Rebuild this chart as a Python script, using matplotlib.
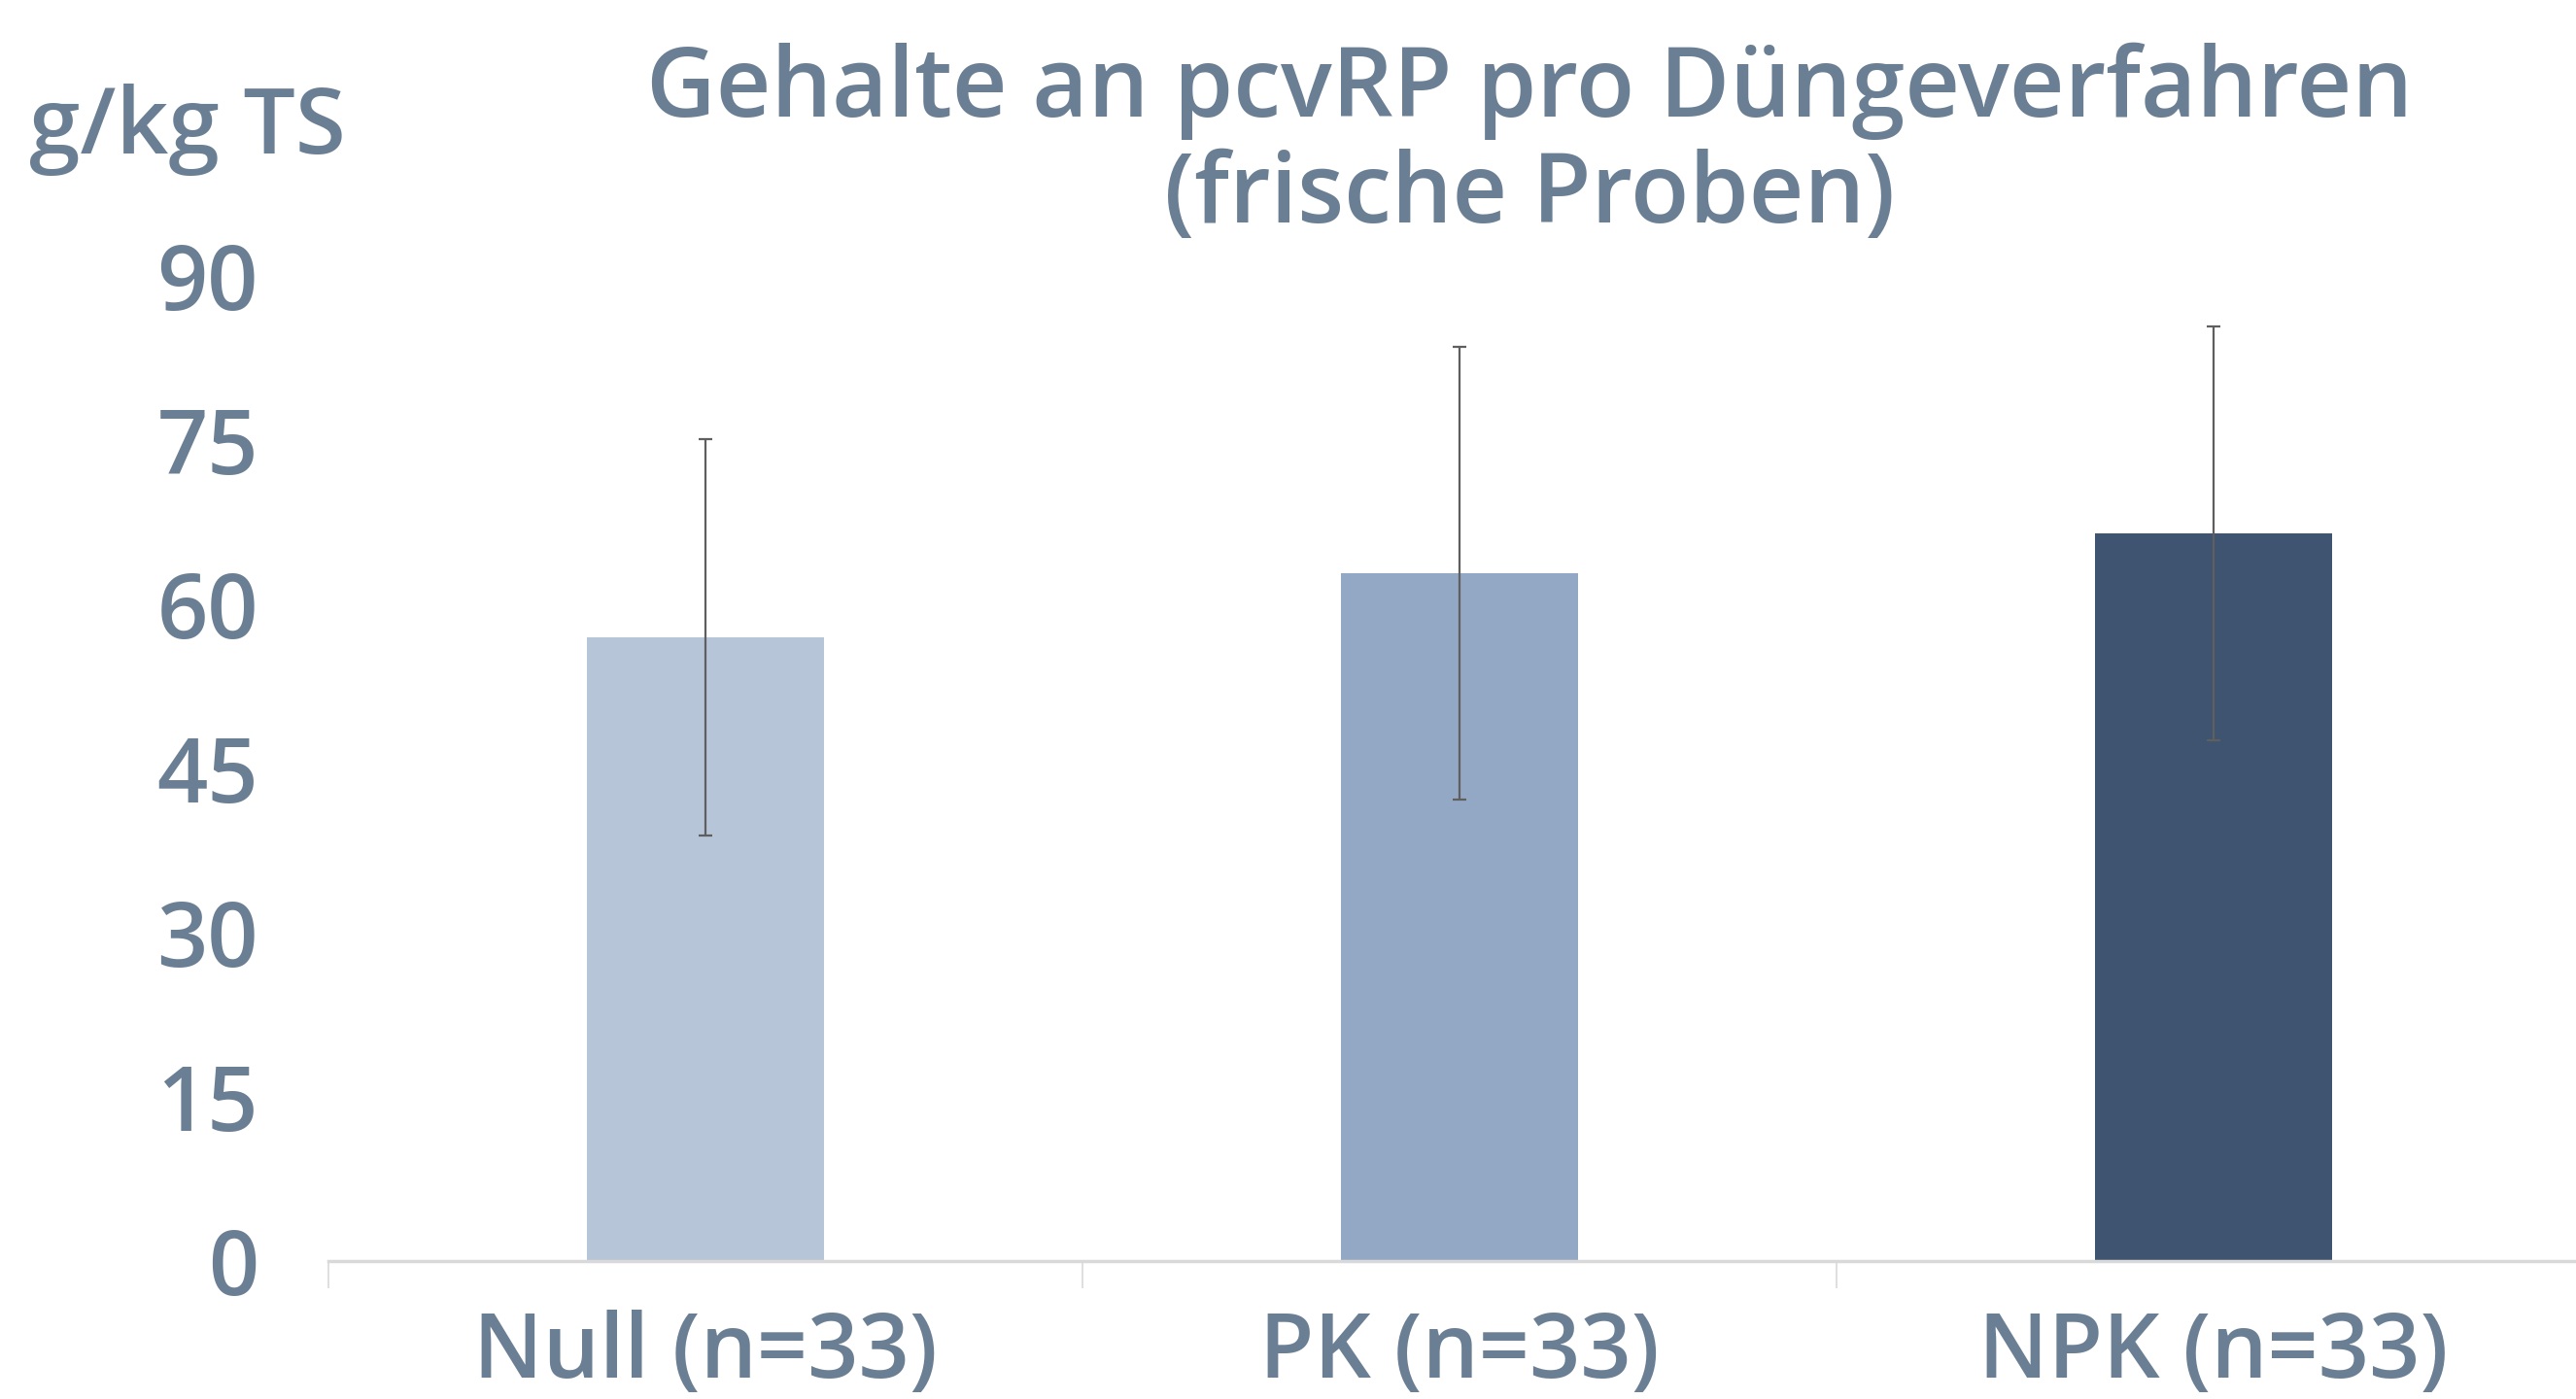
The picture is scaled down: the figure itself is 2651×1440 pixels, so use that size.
import numpy as np
import matplotlib
matplotlib.use("Agg")
import matplotlib.pyplot as plt

# ---------- data ----------
categories = ["Null (n=33)", "PK (n=33)", "NPK (n=33)"]
means      = [57.0, 62.85, 66.5]
errors     = [18.1, 20.7, 18.9]
bar_colors = ["#b6c5d8", "#93a8c5", "#3e5470"]
yticks     = [0, 15, 30, 45, 60, 75, 90]
title      = "Gehalte an pcvRP pro Düngeverfahren\n(frische Proben)"
unit       = "g/kg TS"

TXT = "#6b7f94"
plt.rcParams["font.family"] = ["Open Sans", "DejaVu Sans"]
W = 600

fig = plt.figure(figsize=(26.51, 14.40), dpi=100)
ax = fig.add_axes([338/2651, 142/1440, (2666-338)/2651, (1298-284)/1440])

x = np.arange(len(categories))
ax.bar(x, means, width=0.314, color=bar_colors, zorder=2)
ax.errorbar(x, means, yerr=errors, fmt="none", ecolor="#5f5f5f",
            elinewidth=1.6, capsize=5, capthick=1.6, zorder=3)

ax.set_xlim(-0.5, 2.5)
ax.set_ylim(0, 90)
ax.set_yticks(yticks)
ax.set_yticklabels([str(t) for t in yticks], fontsize=66, fontweight=W, color=TXT)
ax.tick_params(axis="y", length=0, pad=52)

# category boundary ticks + labels
ax.set_xticks([-0.5, 0.5, 1.5], minor=False)
ax.set_xticklabels([])
ax.tick_params(axis="x", which="major", length=20, width=1.2, color="#d9d9d9")
ax.set_xticks(x, minor=True)
ax.set_xticklabels(categories, minor=True, fontsize=66, fontweight=W, color=TXT)
ax.tick_params(axis="x", which="minor", length=0, pad=36)

for s in ["top", "right", "left"]:
    ax.spines[s].set_visible(False)
ax.spines["bottom"].set_color("#d9d9d9")
ax.spines["bottom"].set_linewidth(2.5)

fig.text(1574/2651, 1 - 44/1440, title, ha="center", va="top", fontsize=71,
         fontweight=W, color=TXT, linespacing=1.12)
fig.text(30/2651, 1 - 158/1440, unit, ha="left", va="baseline", fontsize=68,
         fontweight=W, color=TXT)

fig.savefig("out.png", dpi=100, facecolor="white")
